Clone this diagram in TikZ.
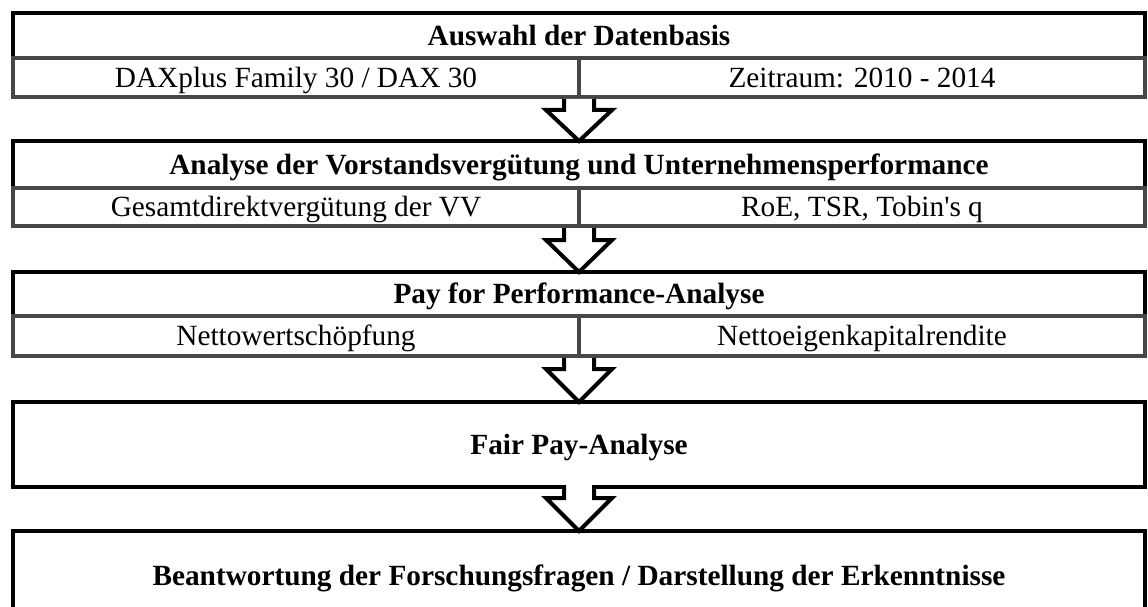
\documentclass[tikz,border=0pt]{standalone}
\usepackage{fontspec}
\setmainfont{Liberation Serif}[Ligatures=TeXOff]
\begin{document}
\begin{tikzpicture}[x=1pt,y=-1pt,
  every node/.style={inner sep=0pt, outer sep=0pt, font=\fontsize{29.3}{33}\selectfont, text height=19.5pt, text depth=0pt},
  titlebox/.style={draw=black, line width=4pt, fill=white, minimum width=1132pt, font=\fontsize{29.3}{33}\selectfont\bfseries},
  subcell/.style={draw=black!72, line width=4pt, minimum height=39pt, minimum width=566pt},
  blockarrow/.style={draw=black, line width=4pt, fill=white, line join=miter, miter limit=10}
]
\useasboundingbox (0,0) rectangle (1148,607);
\clip (0,0) rectangle (1148,607);

% --- stage 1: data basis
\node[titlebox, minimum height=45pt] (t1) at (579,35.5) {Auswahl der Datenbasis};
\node[subcell] (s1l) at (296,77.5) {DAXplus Family 30 / DAX 30};
\node[subcell] (s1r) at (862,77.5) {Zeitraum: 2010 - 2014};

% --- stage 2: compensation and performance
\node[titlebox, minimum height=47pt] (t2) at (579,164.5) {Analyse der Vorstandsvergütung und Unternehmensperformance};
\node[subcell, minimum height=38pt] (s2l) at (296,207) {Gesamtdirektvergütung der VV};
\node[subcell, minimum height=38pt] (s2r) at (862,207) {RoE, TSR, Tobin\textquotesingle s q};

% --- stage 3: pay for performance
\node[titlebox, minimum height=44pt] (t3) at (579,294) {Pay for Performance-Analyse};
\node[subcell, minimum height=40pt] (s3l) at (296,336) {Nettowertschöpfung};
\node[subcell, minimum height=40pt] (s3r) at (862,336) {Nettoeigenkapitalrendite};

% --- stage 4: fair pay
\node[titlebox, minimum height=85pt] (t4) at (579,444.5) {Fair Pay-Analyse};

% --- stage 5: results (runs past the lower edge)
\node[titlebox, minimum height=90pt] (t5) at (579,576) {Beantwortung der Forschungsfragen / Darstellung der Erkenntnisse};

% --- block arrows between the stages
\draw[blockarrow] ([shift={(-15,2)}]s1l.south east) -- ([shift={(-15,13)}]s1l.south east)
  -- ([shift={(-33,13)}]s1l.south east) -- (t2.north)
  -- ([shift={(33,13)}]s1l.south east) -- ([shift={(15,13)}]s1l.south east)
  -- ([shift={(15,2)}]s1l.south east);
\draw[blockarrow] ([shift={(-15,2)}]s2l.south east) -- ([shift={(-15,14)}]s2l.south east)
  -- ([shift={(-33,14)}]s2l.south east) -- (t3.north)
  -- ([shift={(33,14)}]s2l.south east) -- ([shift={(15,14)}]s2l.south east)
  -- ([shift={(15,2)}]s2l.south east);
\draw[blockarrow] ([shift={(-15,2)}]s3l.south east) -- ([shift={(-15,13)}]s3l.south east)
  -- ([shift={(-33,13)}]s3l.south east) -- (t4.north)
  -- ([shift={(33,13)}]s3l.south east) -- ([shift={(15,13)}]s3l.south east)
  -- ([shift={(15,2)}]s3l.south east);
\draw[blockarrow] ([shift={(-15,-2)}]t4.south) -- ([shift={(-15,11)}]t4.south)
  -- ([shift={(-33,11)}]t4.south) -- (t5.north)
  -- ([shift={(33,11)}]t4.south) -- ([shift={(15,11)}]t4.south)
  -- ([shift={(15,-2)}]t4.south);
\end{tikzpicture}
\end{document}
